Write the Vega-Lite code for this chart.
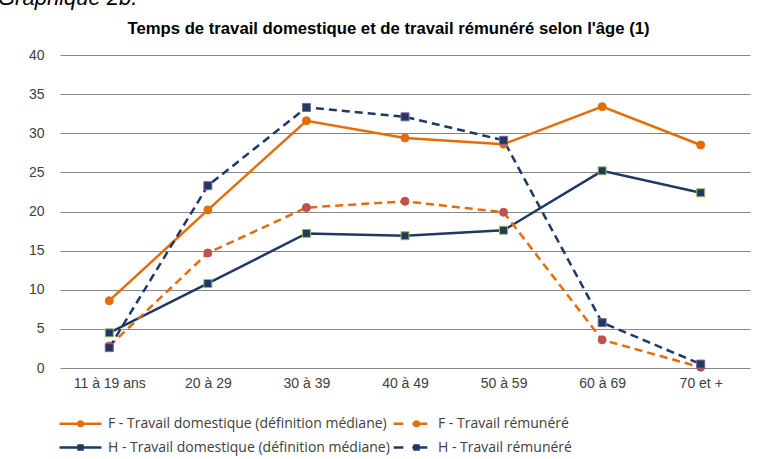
{
  "$schema": "https://vega.github.io/schema/vega-lite/v6.json",
  "width": 690,
  "height": 313,
  "autosize": {"type": "none"},
  "padding": {"left": 60, "top": 55, "right": 12, "bottom": 91},
  "background": "white",
  "title": {
    "text": "Graphique 2b.",
    "anchor": "start",
    "frame": "group",
    "dx": -62,
    "offset": 10,
    "font": "Liberation Sans",
    "fontSize": 22,
    "fontStyle": "italic",
    "fontWeight": "normal",
    "color": "#000000"
  },
  "config": {
    "view": {"stroke": null},
    "axis": {
      "labelFont": "Liberation Sans",
      "labelFontSize": 14,
      "labelColor": "#404040",
      "titleFont": "Liberation Sans"
    },
    "legend": {
      "labelFont": "Open Sans",
      "labelFontSize": 14,
      "labelColor": "#404040"
    }
  },
  "data": {
    "values": [
      {"age": "11 à 19 ans", "serie": "F - Travail domestique (définition médiane)", "valeur": 8.6},
      {"age": "20 à 29", "serie": "F - Travail domestique (définition médiane)", "valeur": 20.2},
      {"age": "30 à 39", "serie": "F - Travail domestique (définition médiane)", "valeur": 31.6},
      {"age": "40 à 49", "serie": "F - Travail domestique (définition médiane)", "valeur": 29.4},
      {"age": "50 à 59", "serie": "F - Travail domestique (définition médiane)", "valeur": 28.6},
      {"age": "60 à 69", "serie": "F - Travail domestique (définition médiane)", "valeur": 33.4},
      {"age": "70 et  +", "serie": "F - Travail domestique (définition médiane)", "valeur": 28.5},
      {"age": "11 à 19 ans", "serie": "F - Travail rémunéré", "valeur": 2.8},
      {"age": "20 à 29", "serie": "F - Travail rémunéré", "valeur": 14.7},
      {"age": "30 à 39", "serie": "F - Travail rémunéré", "valeur": 20.5},
      {"age": "40 à 49", "serie": "F - Travail rémunéré", "valeur": 21.3},
      {"age": "50 à 59", "serie": "F - Travail rémunéré", "valeur": 19.9},
      {"age": "60 à 69", "serie": "F - Travail rémunéré", "valeur": 3.6},
      {"age": "70 et  +", "serie": "F - Travail rémunéré", "valeur": 0.1},
      {"age": "11 à 19 ans", "serie": "H - Travail domestique (définition médiane)", "valeur": 4.5},
      {"age": "20 à 29", "serie": "H - Travail domestique (définition médiane)", "valeur": 10.8},
      {"age": "30 à 39", "serie": "H - Travail domestique (définition médiane)", "valeur": 17.2},
      {"age": "40 à 49", "serie": "H - Travail domestique (définition médiane)", "valeur": 16.9},
      {"age": "50 à 59", "serie": "H - Travail domestique (définition médiane)", "valeur": 17.6},
      {"age": "60 à 69", "serie": "H - Travail domestique (définition médiane)", "valeur": 25.2},
      {"age": "70 et  +", "serie": "H - Travail domestique (définition médiane)", "valeur": 22.4},
      {"age": "11 à 19 ans", "serie": "H - Travail rémunéré", "valeur": 2.6},
      {"age": "20 à 29", "serie": "H - Travail rémunéré", "valeur": 23.3},
      {"age": "30 à 39", "serie": "H - Travail rémunéré", "valeur": 33.3},
      {"age": "40 à 49", "serie": "H - Travail rémunéré", "valeur": 32.1},
      {"age": "50 à 59", "serie": "H - Travail rémunéré", "valeur": 29.1},
      {"age": "60 à 69", "serie": "H - Travail rémunéré", "valeur": 5.8},
      {"age": "70 et  +", "serie": "H - Travail rémunéré", "valeur": 0.5}
    ]
  },
  "encoding": {
    "y": {
      "field": "valeur",
      "type": "quantitative",
      "scale": {"domain": [0, 40], "nice": false, "zero": true},
      "axis": {
        "title": null,
        "values": [0, 5, 10, 15, 20, 25, 30, 35, 40],
        "domain": false,
        "ticks": false,
        "labelPadding": 16,
        "grid": true,
        "gridColor": "#868686",
        "gridWidth": 1,
        "gridOpacity": 1
      }
    }
  },
  "layer": [
    {
      "transform": [{"filter": "indexof(datum.serie, 'domestique') >= 0"}],
      "mark": {"type": "line", "strokeWidth": 2.5},
      "encoding": {
        "x": {
          "field": "age",
          "type": "ordinal",
          "sort": null,
          "scale": {"type": "point", "padding": 0.5},
          "axis": {
            "orient": "bottom",
            "title": null,
            "domain": false,
            "ticks": false,
            "grid": false,
            "labelAngle": 0,
            "labelPadding": 8
          }
        },
        "color": {
          "field": "serie",
          "type": "nominal",
          "sort": null,
          "scale": {
            "domain": [
              "F - Travail domestique (définition médiane)",
              "F - Travail rémunéré",
              "H - Travail domestique (définition médiane)",
              "H - Travail rémunéré"
            ],
            "range": ["#E46C0A", "#E46C0A", "#1F3864", "#1F3864"]
          },
          "legend": {
            "title": null,
            "orient": "none",
            "legendX": 13,
            "legendY": 361,
            "direction": "horizontal",
            "columns": 2,
            "symbolSize": 144,
            "labelOffset": 20,
            "columnPadding": -2,
            "rowPadding": 9,
            "labelLimit": 400,
            "symbolStrokeWidth": 2.5,
            "encode": {
              "symbols": {
                "update": {
                  "shape": {"signal": "datum.value == 'F - Travail domestique (définition médiane)' ? 'M-3.5,0H3.5M0.375,0A0.375,0.375,0,1,1,-0.375,0A0.375,0.375,0,1,1,0.375,0Z' : datum.value == 'F - Travail rémunéré' ? 'M-2.8,0H-1.2M0.3,0H2.8M1.375,0A0.375,0.375,0,1,1,0.625,0A0.375,0.375,0,1,1,1.375,0Z' : datum.value == 'H - Travail domestique (définition médiane)' ? 'M-3.5,0H3.5M-0.33,-0.33H0.33V0.33H-0.33Z' : 'M-2.8,0H-1.2M0.3,0H2.8M0.67,-0.33H1.33V0.33H0.67Z'"},
                  "fill": {"signal": "datum.value == 'F - Travail domestique (définition médiane)' ? '#E46C0A' : datum.value == 'F - Travail rémunéré' ? '#C0504D' : '#1F3864'"},
                  "stroke": {"signal": "indexof(datum.value, 'F') == 0 ? '#E46C0A' : '#1F3864'"},
                  "strokeWidth": {"value": 2.5},
                  "opacity": {"value": 1}
                }
              }
            }
          }
        }
      }
    },
    {
      "transform": [{"filter": "indexof(datum.serie, 'rémunéré') >= 0"}],
      "mark": {"type": "line", "strokeWidth": 2.5, "strokeDash": [8, 5]},
      "encoding": {
        "x": {
          "field": "age",
          "type": "ordinal",
          "sort": null,
          "scale": {"type": "point", "padding": 0.5},
          "axis": null
        },
        "color": {
          "field": "serie",
          "type": "nominal",
          "sort": null
        }
      }
    },
    {
      "transform": [{"filter": "indexof(datum.serie, 'F') == 0"}],
      "mark": {"type": "point", "shape": "circle", "filled": true, "size": 64, "strokeWidth": 1, "opacity": 1},
      "encoding": {
        "x": {
          "field": "age",
          "type": "ordinal",
          "sort": null,
          "scale": {"type": "point", "padding": 0.5},
          "axis": null
        },
        "fill": {
          "field": "serie",
          "type": "nominal",
          "sort": null,
          "scale": {
            "domain": [
              "F - Travail domestique (définition médiane)",
              "F - Travail rémunéré",
              "H - Travail domestique (définition médiane)",
              "H - Travail rémunéré"
            ],
            "range": ["#E46C0A", "#C0504D", "#1F3864", "#1F3864"]
          },
          "legend": null
        },
        "stroke": {
          "field": "serie",
          "type": "nominal",
          "sort": null,
          "scale": {
            "domain": [
              "F - Travail domestique (définition médiane)",
              "F - Travail rémunéré",
              "H - Travail domestique (définition médiane)",
              "H - Travail rémunéré"
            ],
            "range": ["#E46C0A", "#C0504D", "#9BBB59", "#8064A2"]
          },
          "legend": null
        }
      }
    },
    {
      "transform": [{"filter": "indexof(datum.serie, 'H') == 0"}],
      "mark": {"type": "point", "shape": "square", "filled": true, "size": 64, "strokeWidth": 1, "opacity": 1},
      "encoding": {
        "x": {
          "field": "age",
          "type": "ordinal",
          "sort": null,
          "scale": {"type": "point", "padding": 0.5},
          "axis": {
            "orient": "top",
            "title": "Temps de travail domestique et de travail rémunéré selon l'âge (1)",
            "titleFont": "Liberation Sans",
            "titleFontSize": 16.7,
            "titleFontWeight": "bold",
            "titleColor": "#000000",
            "titleX": 328,
            "titleAlign": "center",
            "titlePadding": 18,
            "labels": false,
            "domain": false,
            "ticks": false,
            "grid": false
          }
        },
        "fill": {
          "field": "serie",
          "type": "nominal",
          "sort": null,
          "legend": null
        },
        "stroke": {
          "field": "serie",
          "type": "nominal",
          "sort": null,
          "legend": null
        }
      }
    }
  ],
  "resolve": {"axis": {"x": "independent"}}
}
